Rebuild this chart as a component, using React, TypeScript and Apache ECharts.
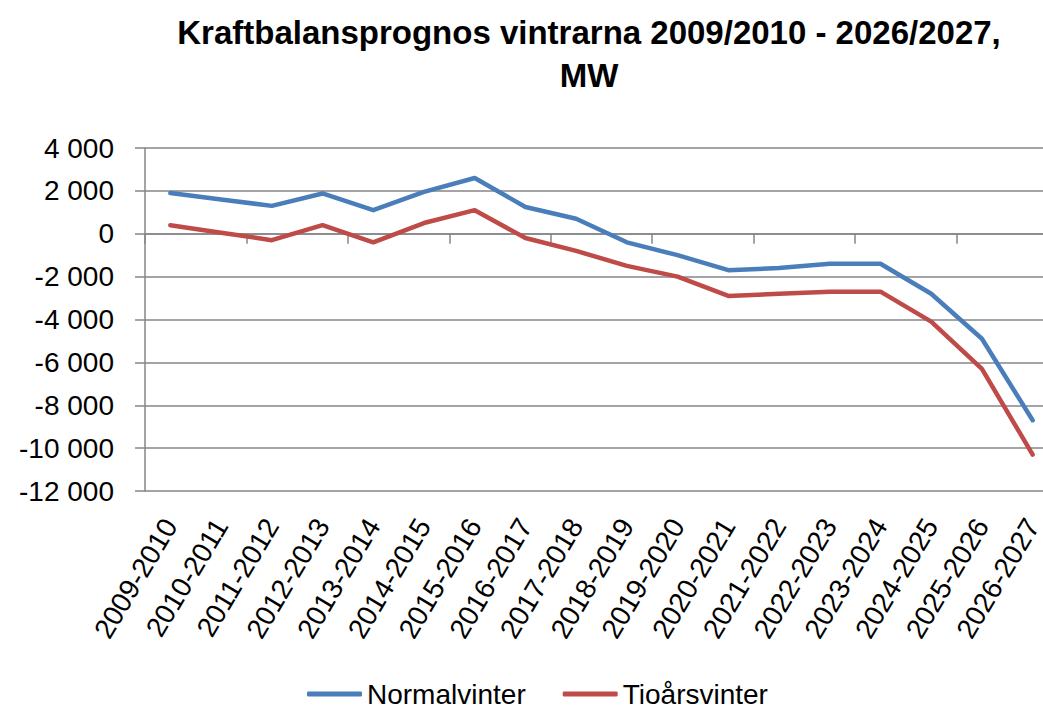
import React, { useEffect, useRef } from "react";
import * as echarts from "echarts";

const categories = [
  "2009-2010", "2010-2011", "2011-2012", "2012-2013", "2013-2014", "2014-2015",
  "2015-2016", "2016-2017", "2017-2018", "2018-2019", "2019-2020", "2020-2021",
  "2021-2022", "2022-2023", "2023-2024", "2024-2025", "2025-2026", "2026-2027",
];
const normalvinter = [
  1900, 1600, 1300, 1880, 1100, 1950, 2600, 1250, 700, -400, -1000, -1700,
  -1600, -1400, -1400, -2800, -4900, -8700,
];
const tioarsvinter = [
  400, 50, -300, 400, -400, 500, 1100, -200, -800, -1500, -2000, -2900,
  -2800, -2700, -2700, -4100, -6300, -10300,
];
const titleLines = ["Kraftbalansprognos vintrarna 2009/2010 - 2026/2027,", "MW"];
const seriesNames = ["Normalvinter", "Tioårsvinter"];

const FONT = "'Liberation Sans', Arial, sans-serif";
const GRAY = "#868686";

function fmt(v: number): string {
  const s = Math.abs(v).toString().replace(/\B(?=(\d{3})+(?!\d))/g, " ");
  return (v < 0 ? "-" : "") + s;
}

export default function App() {
  const ref = useRef<HTMLDivElement>(null);
  useEffect(() => {
    document.body.style.margin = "0";
    const chart = echarts.init(ref.current!, null, { renderer: "svg" });
    chart.setOption({
      animation: false,
      backgroundColor: "#ffffff",
      graphic: [
        {
          type: "text",
          x: 589,
          y: 32,
          style: {
            text: titleLines[0],
            textAlign: "center",
            textVerticalAlign: "middle",
            font: `bold 33px ${FONT}`,
            fill: "#000",
          },
        },
        {
          type: "text",
          x: 589,
          y: 75,
          style: {
            text: titleLines[1],
            textAlign: "center",
            textVerticalAlign: "middle",
            font: `bold 33px ${FONT}`,
            fill: "#000",
          },
        },
      ],
      grid: { left: 145, right: 0, top: 148, bottom: 217, containLabel: false },
      legend: {
        left: 307,
        top: 680,
        itemGap: 37,
        itemWidth: 55,
        itemHeight: 5,
        icon: "roundRect",
        padding: 0,
        textStyle: { fontFamily: FONT, fontSize: 28, lineHeight: 28, color: "#000" },
        data: seriesNames,
      },
      xAxis: [
        {
          type: "category",
          data: categories,
          boundaryGap: true,
          position: "bottom",
          axisLine: { onZero: true, lineStyle: { color: GRAY, width: 1.5 } },
          axisTick: { show: true, length: 10, lineStyle: { color: GRAY, width: 1.5 } },
          axisLabel: { show: false },
          splitLine: { show: false },
        },
        {
          type: "category",
          data: categories,
          boundaryGap: true,
          position: "bottom",
          axisLine: { show: false, onZero: false },
          axisTick: { show: false },
          axisLabel: {
            show: true,
            interval: 0,
            rotate: 59,
            margin: 30,
            fontFamily: FONT,
            fontSize: 28,
            color: "#000",
          },
          splitLine: { show: false },
        },
      ],
      yAxis: {
        type: "value",
        min: -12000,
        max: 4000,
        interval: 2000,
        axisLine: { show: true, lineStyle: { color: GRAY, width: 1.5 } },
        axisTick: { show: true, length: 10, lineStyle: { color: GRAY, width: 1.5 } },
        axisLabel: {
          formatter: (v: number) => fmt(v),
          margin: 31,
          fontFamily: FONT,
          fontSize: 28,
          color: "#000",
        },
        splitLine: { show: true, lineStyle: { color: GRAY, width: 1.5 } },
      },
      series: [
        {
          name: seriesNames[0],
          type: "line",
          data: normalvinter,
          xAxisIndex: 0,
          symbol: "none",
          color: "#4A7EBB",
          lineStyle: { width: 4.5, color: "#4A7EBB", cap: "round", join: "round" },
        },
        {
          name: seriesNames[1],
          type: "line",
          data: tioarsvinter,
          xAxisIndex: 0,
          symbol: "none",
          color: "#BE4B48",
          lineStyle: { width: 4.5, color: "#BE4B48", cap: "round", join: "round" },
        },
      ],
    });
    return () => chart.dispose();
  }, []);
  return (
    <div style={{ width: 1043, height: 708, overflow: "hidden", position: "relative" }}>
      <div ref={ref} style={{ width: 1058, height: 708 }} />
    </div>
  );
}
